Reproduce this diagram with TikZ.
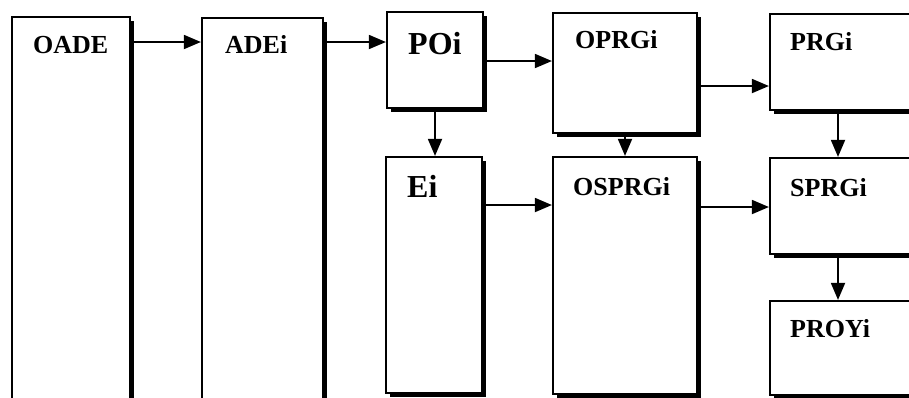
\documentclass[tikz,border=0pt]{standalone}
\usepackage{fontspec}
\setmainfont{Liberation Serif}
\usetikzlibrary{arrows.meta,shadows}
\begin{document}
\begin{tikzpicture}[x=1pt,y=-1pt,
  box/.style={draw=black,line width=2.2pt,fill=white,inner sep=0pt,
    drop shadow={shadow xshift=3.5pt,shadow yshift=-3.5pt,fill=black,opacity=1}},
  lbl/.style={anchor=base west,inner sep=0pt,font=\fontsize{26}{26}\selectfont\bfseries},
  biglbl/.style={anchor=base west,inner sep=0pt,font=\fontsize{32}{32}\selectfont\bfseries},
  arr/.style={line width=1.8pt,-{Triangle[length=17pt,width=14pt]}}]
\useasboundingbox (0,0) rectangle (909,397);
\clip (0,0) rectangle (909,397);
\fill[white] (0,0) rectangle (909,397);
% boxes
\node[box,minimum width=118pt,minimum height=403pt] (OADE) at (71,218.5) {};
\node[box,minimum width=121pt,minimum height=402pt] (ADEi) at (262.5,219) {};
\node[box,minimum width=96pt,minimum height=96pt] (POi) at (435,60) {};
\node[box,minimum width=144pt,minimum height=120pt] (OPRGi) at (625,73) {};
\node[box,minimum width=180pt,minimum height=96pt] (PRGi) at (860,62) {};
\node[box,minimum width=96pt,minimum height=236pt] (Ei) at (434,275) {};
\node[box,minimum width=144pt,minimum height=237pt] (OSPRGi) at (625,275.5) {};
\node[box,minimum width=180pt,minimum height=96pt] (SPRGi) at (860,206) {};
\node[box,minimum width=180pt,minimum height=94pt] (PROYi) at (860,348) {};
% labels
\node[lbl] (tOADE) at (33,53) {OADE};
\node[lbl] (tADEi) at (225,53) {ADEi};
\node[biglbl] (tPOi) at (408,54) {POi};
\node[lbl] (tOPRGi) at (575,48) {OPRGi};
\node[lbl] (tPRGi) at (790,50) {PRGi};
\node[biglbl] (tEi) at (407,197) {Ei};
\node[lbl] (tOSPRGi) at (573,195) {OSPRGi};
\node[lbl] (tSPRGi) at (790,196) {SPRGi};
\node[lbl] (tPROYi) at (790,337) {PROYi};
% connectors
\draw[arr] (OADE.east |- 0,42) -- (ADEi.west |- 0,42);
\draw[arr] (ADEi.east |- 0,42) -- (POi.west |- 0,42);
\draw[arr] (POi.east |- 0,61) -- (OPRGi.west |- 0,61);
\draw[arr] (OPRGi.east |- 0,86) -- (PRGi.west |- 0,86);
\draw[arr] (POi.south) -- (POi.south |- Ei.north);
\draw[arr] (OPRGi.south) -- (OPRGi.south |- OSPRGi.north);
\draw[arr] (PRGi.south -| 838,0) -- (SPRGi.north -| 838,0);
\draw[arr] (SPRGi.south -| 838,0) -- (PROYi.north -| 838,0);
\draw[arr] (Ei.east |- 0,205) -- (OSPRGi.west |- 0,205);
\draw[arr] (OSPRGi.east |- 0,207) -- (SPRGi.west |- 0,207);
\end{tikzpicture}
\end{document}
